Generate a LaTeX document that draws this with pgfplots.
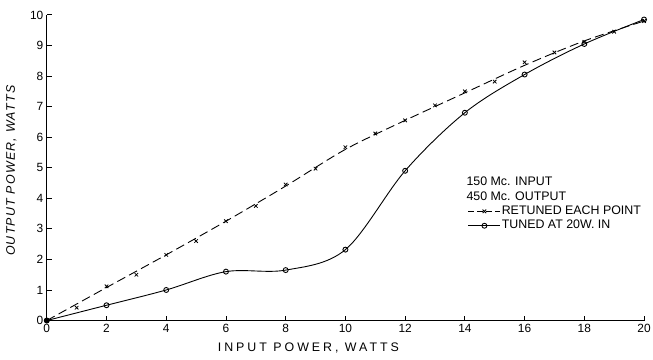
\documentclass[border=0pt]{standalone}
\usepackage{pgfplots}
\pgfplotsset{compat=1.18}
\usepackage{fontspec}
\setmainfont{Liberation Sans}
\begin{document}
\begin{tikzpicture}
\begin{axis}[
 at={(0,0)}, anchor=south west,
 width=600bp, height=307bp, scale only axis,
 xmin=0, xmax=20, ymin=0, ymax=10,
 axis x line=bottom, axis y line=left,
 axis line style={-, line width=0.9pt},
 xtick={0,2,...,20}, ytick={0,1,...,10},
 tick align=inside, major tick length=5bp,
 tick style={line width=0.9pt, black},
 ticklabel style={font=\fontsize{12}{13}\selectfont},
 /pgf/number format/assume math mode=true,
 xlabel={\addfontfeature{LetterSpace=24}INPUT POWER, WATTS},
 xlabel style={font=\fontsize{12.5}{13}\selectfont, at={(axis description cs:0.438,0)}, anchor=north, yshift=-19bp},
 ylabel={\addfontfeature{LetterSpace=10}\itshape OUTPUT POWER,\ WATTS},
 ylabel style={font=\fontsize{12.5}{13}\selectfont, at={(axis description cs:-0.045,0.49)}, anchor=south},
 legend style={draw=none, fill=none, at={(axis cs:14.1,3.8)}, anchor=north west,
   font=\fontsize{12.5}{13}\selectfont, row sep=1bp, inner sep=0pt,
   nodes={inner sep=1bp, text height=9bp, text depth=2.5bp}},
 legend cell align=left,
 legend image code/.code={\draw[mark repeat=2,mark phase=2] plot coordinates {(0bp,0bp) (16bp,0bp) (32bp,0bp)};},
]
% dashed line (retuned each point)
\addplot[black, line width=0.9pt, dash pattern=on 9bp off 4.5bp, smooth, tension=0.5, forget plot]
coordinates {(0,0) (2,1.08) (4,2.15) (6,3.25) (8,4.4) (10,5.6) (12,6.55) (14,7.45) (16,8.35) (18,9.15) (20,9.8)};
\addplot[black, only marks, mark=x, mark size=2.5bp, line width=0.8pt, forget plot]
coordinates {(1,0.42) (2,1.12) (3,1.5) (4,2.15) (5,2.6) (6,3.25) (7,3.75) (8,4.45) (9,4.97) (10,5.67) (11,6.12) (12,6.55) (13,7.04) (14,7.5) (15,7.82) (16,8.45) (17,8.77) (18,9.12) (19,9.45) (20,9.8)};
\addlegendimage{black, line width=0.9pt, dash pattern=on 6bp off 3bp, mark=x, mark size=2.5bp, mark options={solid}}
\addlegendentry{RETUNED EACH POINT}
\addplot[black, line width=0.9pt, smooth, tension=0.55, mark=o, mark size=2.5bp, mark options={fill=white}]
coordinates {(0,0) (2,0.5) (4,1.0) (6,1.6) (8,1.65) (10,2.32) (12,4.9) (14,6.8) (16,8.05) (18,9.05) (20,9.85)};
\addlegendentry{TUNED AT 20W. IN}
\addplot[black, only marks, mark=*, mark size=2.5bp, forget plot] coordinates {(0,0)};
\node[anchor=west, font=\fontsize{12.5}{13}\selectfont, inner sep=0pt] at (axis cs:14.05,4.56) {150 Mc. INPUT};
\node[anchor=west, font=\fontsize{12.5}{13}\selectfont, inner sep=0pt] at (axis cs:14.05,4.08) {450 Mc. OUTPUT};
\end{axis}
\pgfresetboundingbox
\path[use as bounding box] (-47bp,-39bp) rectangle (609bp,322bp);
\end{tikzpicture}
\end{document}
